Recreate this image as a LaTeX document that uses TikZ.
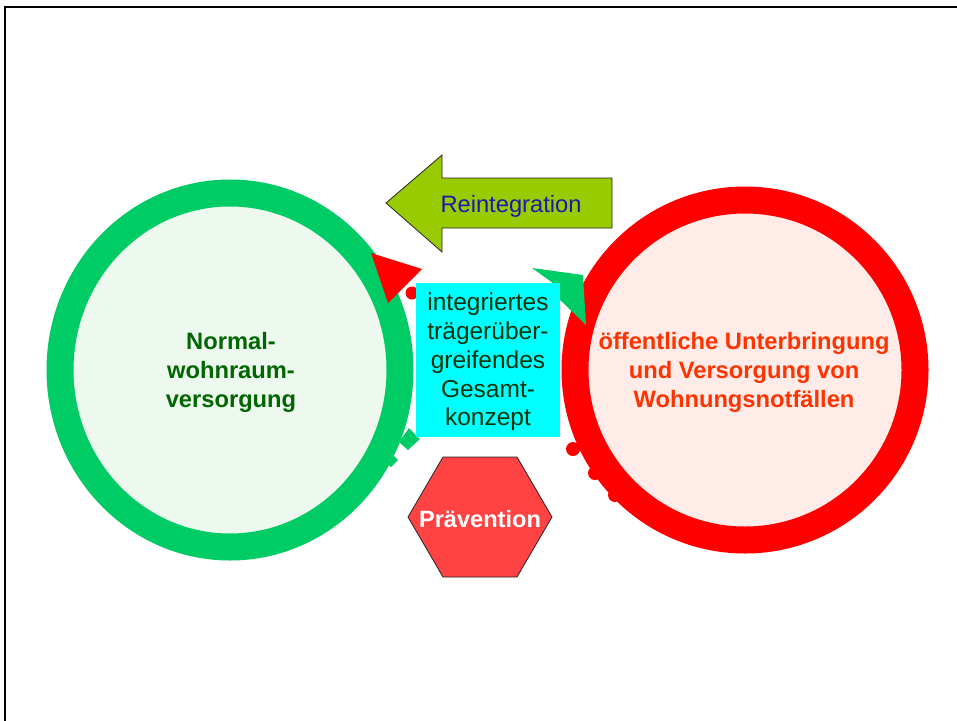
\documentclass[tikz,border=0pt]{standalone}
\usepackage{fontspec}
\setmainfont{Liberation Sans}
\usetikzlibrary{shapes.geometric}

\definecolor{ringgreen}{HTML}{00CC66}
\definecolor{fillgreen}{HTML}{EDF8EF}
\definecolor{textgreen}{HTML}{006600}
\definecolor{ringred}{HTML}{FF0000}
\definecolor{fillred}{HTML}{FFECE9}
\definecolor{textred}{HTML}{FF3300}
\definecolor{boxcyan}{HTML}{00FFFF}
\definecolor{boxtext}{HTML}{0A330A}
\definecolor{arrowgreen}{HTML}{99CC00}
\definecolor{arrowtext}{HTML}{1A1AB0}
\definecolor{hexred}{HTML}{FF4242}

\tikzset{
  ring/.style={line width=27pt, inner sep=0pt},
  ringtext/.style={inner sep=0pt, align=center,
               font=\fontsize{23.7}{29}\selectfont\bfseries},
  outline/.style={draw=black!85, line width=0.8pt},
  label/.style={inner sep=0pt, align=center},
}

\begin{document}
\begin{tikzpicture}[x=1pt, y=-1pt]
\useasboundingbox (0,0) rectangle (957,720);
\fill[white] (0,0) rectangle (957,720);

% page frame
\draw[line width=2.5pt] (5,724) -- (5,7) -- (961,7);

% small marks sitting under the rings
\fill[ringred] (573,449) circle (7pt);
\fill[ringred] (595,473) circle (7pt);
\fill[ringred] (615,495) circle (7pt);
\fill[ringgreen] (391,453) -- (398,460) -- (391,467) -- (384,460) -- cycle;

% the two rings
\node[ring, ellipse, draw=ringgreen, fill=fillgreen,
      minimum width=340pt, minimum height=354pt] (normal) at (230,370) {};
\node[ringtext, text=textgreen] (normaltext) at (231,372)
      {Normal-\\wohnraum-\\versorgung};
\node[ring, circle, draw=ringred, fill=fillred,
      minimum size=340pt] (oeff) at (745,370) {};
\node[ringtext, text=textred] (oefftext) at (744,372)
      {öffentliche Unterbringung\\und Versorgung von\\Wohnungsnotfällen};

% arrow heads and marks on top of the rings
\fill[ringred] (371,253) -- (422,269) -- (388,303) -- cycle;
\fill[ringred] (412,293) circle (6.5pt);
\fill[ringgreen] (532,268) -- (583,275) -- (586,325) -- (555,295) -- (555,284.5) -- cycle;
\fill[ringgreen] (409,428) -- (420,439) -- (408,450) -- (399,442) -- cycle;

% central concept box
\fill[boxcyan] (416,283) rectangle (560,437);
\node[label, text=boxtext, font=\fontsize{24.5}{28.7}\selectfont] (konzept) at (488,362)
  {integriertes\\trägerüber-\\greifendes\\Gesamt-\\konzept};

% Reintegration arrow
\path[outline, fill=arrowgreen] (386,203) -- (442,155) -- (442,178) -- (612,178)
  -- (612,228) -- (442,228) -- (442,252) -- cycle;
\node[label, text=arrowtext, font=\fontsize{23.7}{28}\selectfont] (reint) at (511,206) {Reintegration};

% Prävention hexagon
\path[outline, fill=hexred] (408,517) -- (443,457) -- (517,457) -- (552,517)
  -- (517,577) -- (443,577) -- cycle;
\node[label, text=white, font=\fontsize{23.6}{28}\selectfont\bfseries] (praev) at (480,519) {Prävention};
\end{tikzpicture}
\end{document}
